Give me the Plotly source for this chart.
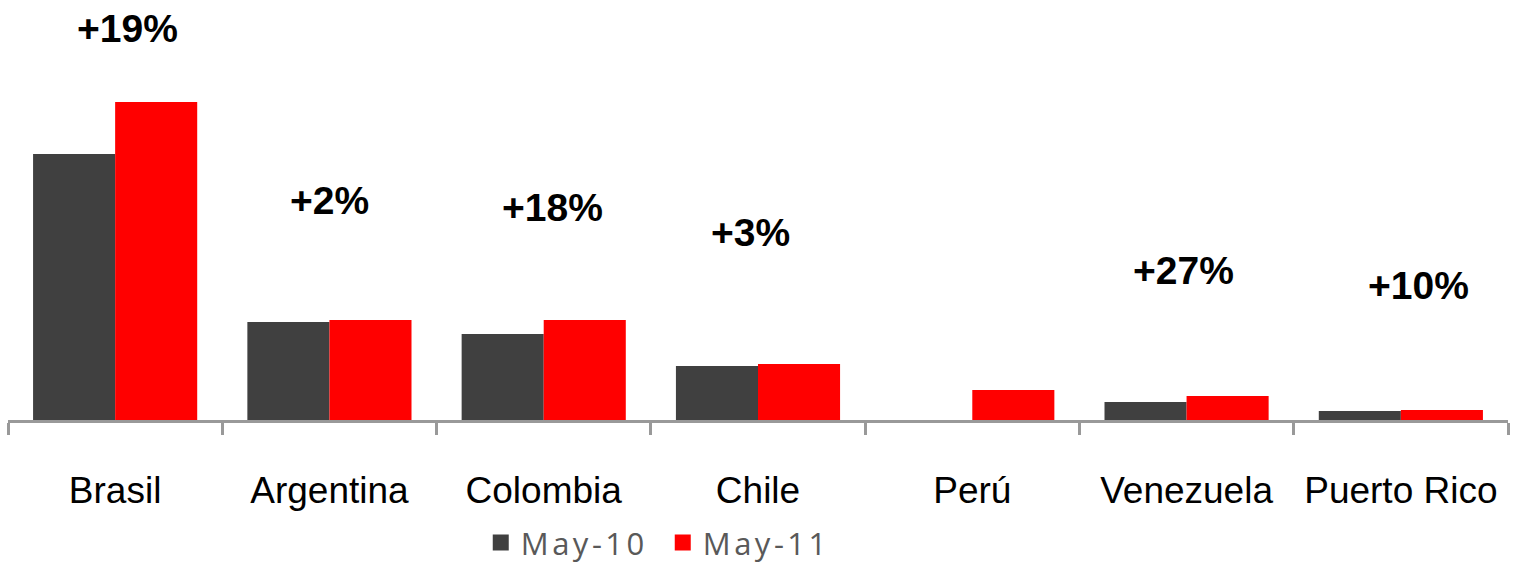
import plotly.graph_objects as go

# Country categories and monthly values for each period
countries = ["Brasil", "Argentina", "Colombia", "Chile", "Perú", "Venezuela", "Puerto Rico"]
may_10 = [266, 98, 86, 54, None, 18, 9]
may_11 = [318, 100, 100, 56, 30, 24, 10]
series_names = ["May-10", "May-11"]
series_colors = ["#404040", "#FF0000"]

# Growth labels and the heights at which they are written
growth_labels = ["+19%", "+2%", "+18%", "+3%", "", "+27%", "+10%"]
label_heights = [392, 220, 213, 188, None, 150, 135]
label_shifts = [12, 0, 9, -8, 0, -3, 18]


def spaced(name):
    # legend entries use a slightly tracked-out typeface
    return f'<span style="letter-spacing:3.5px">{name}</span>'


fig = go.Figure()
for name, vals, col in zip(series_names, [may_10, may_11], series_colors):
    fig.add_trace(go.Bar(name=name, x=countries, y=vals, marker_color=col,
                         marker_line_width=0, showlegend=False, legendgroup=name))

# legend keys drawn as larger square swatches
for name, col in zip(series_names, series_colors):
    fig.add_trace(go.Scatter(name=spaced(name), x=[None], y=[None], mode="markers",
                             marker=dict(symbol="square", size=18, color=col,
                                         line=dict(width=0)),
                             legendgroup=name, showlegend=True))

for c, lab, h, dx in zip(countries, growth_labels, label_heights, label_shifts):
    if not lab:
        continue
    fig.add_annotation(x=c, y=h, text=lab, showarrow=False, xshift=dx,
                       font=dict(family="Liberation Sans, Arial", size=39,
                                 color="#000000", weight="bold"))

fig.update_layout(
    width=1513, height=568,
    margin=dict(l=8, r=5, t=0, b=148, autoexpand=False),
    paper_bgcolor="white", plot_bgcolor="white",
    barmode="group", bargap=0.234, bargroupgap=0,
    font=dict(family="Liberation Sans, Arial", size=37, color="#000000"),
    showlegend=True,
    legend=dict(orientation="h", x=0.4365, xanchor="center", y=-0.357, yanchor="bottom",
                font=dict(family="Open Sans, Liberation Sans", size=31, color="#595959"),
                itemwidth=30, entrywidth=137, traceorder="normal"),
    xaxis=dict(showline=True, linecolor="#999999", linewidth=3,
               ticks="outside", tickson="boundaries", ticklen=12, tickwidth=3,
               tickcolor="#999999", ticklabelstandoff=36, automargin=False,
               tickfont=dict(family="Liberation Sans, Arial", size=37, color="#000000"),
               showgrid=False),
    yaxis=dict(range=[0, 420], visible=False, showgrid=False, zeroline=False),
)

fig.write_html("out.html")
